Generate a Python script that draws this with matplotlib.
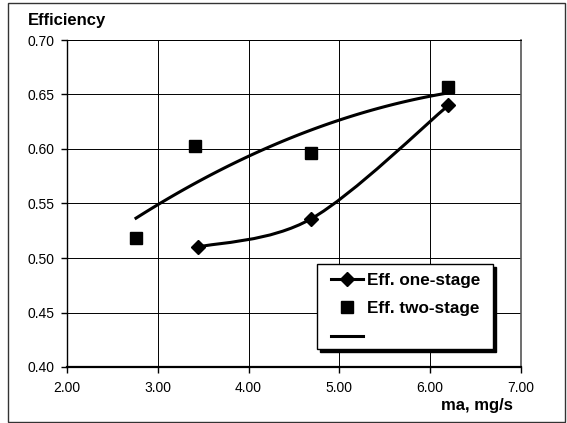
import numpy as np
import matplotlib.pyplot as plt
from matplotlib.path import Path
from matplotlib.patches import PathPatch, Rectangle
from matplotlib.lines import Line2D

plt.rcParams['font.family'] = ['Liberation Sans', 'DejaVu Sans']

# data
one_x = [3.44, 4.69, 6.20]
one_y = [0.510, 0.536, 0.640]
two_x = [2.76, 3.41, 4.69, 6.20]
two_y = [0.518, 0.603, 0.596, 0.657]

x_ticks = [2.0, 3.0, 4.0, 5.0, 6.0, 7.0]
y_ticks = [0.40, 0.45, 0.50, 0.55, 0.60, 0.65, 0.70]

W, H = 567, 423
fig = plt.figure(figsize=(W / 100, H / 100), dpi=100)
ax = fig.add_axes([67 / W, 1 - 367 / H, (521 - 67) / W, (367 - 40) / H])

ax.set_xlim(2.0, 7.0)
ax.set_ylim(0.40, 0.70)
ax.set_xticks(x_ticks)
ax.set_yticks(y_ticks)
ax.set_xticklabels([f'{v:.2f}' for v in x_ticks])
ax.set_yticklabels([f'{v:.2f}' for v in y_ticks])
ax.tick_params(direction='out', length=4, width=1, labelsize=10, color='black')
ax.tick_params(axis='x', pad=6)
ax.tick_params(axis='y', pad=5)
ax.grid(True, color='black', linewidth=0.7)
ax.set_axisbelow(True)

ax.spines['bottom'].set_linewidth(1.6)
ax.spines['left'].set_linewidth(1.0)
ax.spines['top'].set_linewidth(0.7)
ax.spines['right'].set_linewidth(1.2)
ax.spines['right'].set_color('#555555')

# smoothed line through one-stage points (Excel-style bezier smoothing)
pts = np.column_stack([one_x, one_y])
verts = [pts[0]]
codes = [Path.MOVETO]
n = len(pts)
for i in range(n - 1):
    p0 = pts[i - 1] if i > 0 else pts[i]
    p1 = pts[i]
    p2 = pts[i + 1]
    p3 = pts[i + 2] if i + 2 < n else pts[i + 1]
    verts += [p1 + (p2 - p0) / 6, p2 - (p3 - p1) / 6, p2]
    codes += [Path.CURVE4] * 3
ax.add_patch(PathPatch(Path(verts, codes), fill=False, edgecolor='black',
                       linewidth=2.2, capstyle='round', zorder=3))
ax.plot(one_x, one_y, linestyle='none', marker='D', markersize=7,
        color='black', zorder=4)

# two-stage points and polynomial trendline
ax.plot(two_x, two_y, linestyle='none', marker='s', markersize=9,
        color='black', zorder=4)
coef = np.polyfit(two_x, two_y, 2)
tx = np.linspace(min(two_x), max(two_x), 100)
ax.plot(tx, np.polyval(coef, tx), color='black', linewidth=2.2, zorder=3)

# legend box with solid shadow
lx0, ly0, lx1, ly1 = 316.7, 264.3, 492.7, 349.0
fig.patches.append(Rectangle(((lx0 + 3) / W, 1 - (ly1 + 3) / H),
                             (lx1 - lx0) / W, (ly1 - ly0) / H,
                             transform=fig.transFigure, facecolor='black',
                             edgecolor='black', linewidth=1.0, zorder=4))
fig.patches.append(Rectangle((lx0 / W, 1 - ly1 / H),
                             (lx1 - lx0) / W, (ly1 - ly0) / H,
                             transform=fig.transFigure, facecolor='white',
                             edgecolor='black', linewidth=1.0, zorder=4.1))

handles = [
    Line2D([], [], color='black', linewidth=2.2, marker='D', markersize=7),
    Line2D([], [], color='black', linestyle='none', marker='s', markersize=9),
    Line2D([], [], color='black', linewidth=2.2),
]
labels = ['Eff. one-stage', 'Eff. two-stage', '']
leg = fig.legend(handles, labels, loc='upper left',
                 bbox_to_anchor=(330.7 / W, 1 - 272.5 / H),
                 bbox_transform=fig.transFigure, borderaxespad=0,
                 prop={'weight': 'bold', 'size': 12.3}, frameon=False,
                 handlelength=1.9, handletextpad=0.25, borderpad=0,
                 labelspacing=0.8)
leg.set_zorder(5)

fig.text(28 / W, 1 - 25 / H, 'Efficiency', fontsize=12, fontweight='bold',
         ha='left', va='baseline')
fig.text(513 / W, 1 - 410 / H, 'ma, mg/s', fontsize=12, fontweight='bold',
         ha='right', va='baseline')

# outer chart border
fig.patches.append(Rectangle((8 / W, 1 - 422 / H), (565 - 8) / W, (422 - 3) / H,
                             transform=fig.transFigure, fill=False,
                             edgecolor='#333333', linewidth=1.0))

fig.savefig('out.png', dpi=100)
